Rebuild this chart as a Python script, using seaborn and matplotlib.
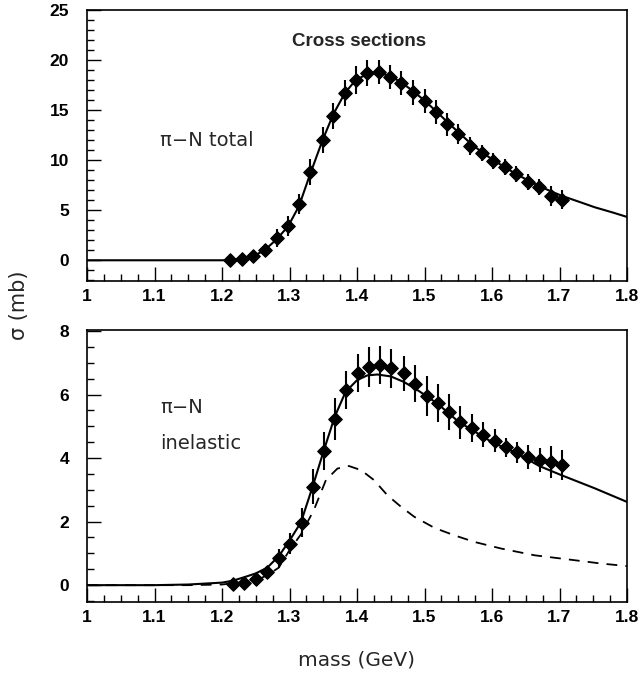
import numpy as np
import pandas as pd
import matplotlib
matplotlib.use("Agg")
import matplotlib.pyplot as plt
import seaborn as sns
from matplotlib.ticker import MultipleLocator
from matplotlib.font_manager import FontProperties

# ---------------- data ----------------
# top panel: pi-N total cross section
tot_mass = [1.2125, 1.230, 1.246, 1.263, 1.281, 1.298, 1.314, 1.330, 1.349, 1.365,
            1.382, 1.398, 1.415, 1.432, 1.449, 1.465, 1.483, 1.501, 1.517, 1.534,
            1.550, 1.568, 1.585, 1.602, 1.619, 1.636, 1.653, 1.670, 1.687, 1.703]
tot_sigma = [0.05, 0.1, 0.43, 1.07, 2.27, 3.47, 5.67, 8.83, 12.0, 14.4,
             16.67, 18.0, 18.67, 18.8, 18.33, 17.67, 16.77, 15.93, 14.77, 13.6,
             12.6, 11.43, 10.67, 9.93, 9.33, 8.6, 7.83, 7.33, 6.43, 6.07]
tot_err = [0.3, 0.3, 0.4, 0.6, 0.9, 1.0, 1.0, 1.3, 1.3, 1.3,
           1.3, 1.4, 1.3, 1.2, 1.2, 1.2, 1.25, 1.2, 1.2, 1.15,
           1.0, 0.9, 0.8, 0.8, 0.8, 0.8, 0.8, 0.8, 1.0, 0.9]

tot_curve_mass = [1.0, 1.1, 1.15, 1.2, 1.212, 1.23, 1.246, 1.263, 1.281, 1.298,
                  1.314, 1.33, 1.349, 1.365, 1.382, 1.398, 1.415, 1.432, 1.449, 1.465,
                  1.483, 1.501, 1.517, 1.534, 1.55, 1.568, 1.585, 1.602, 1.619, 1.636,
                  1.653, 1.67, 1.687, 1.703, 1.733, 1.752, 1.78, 1.80]
tot_curve_sigma = [0.0, 0.0, 0.0, 0.0, 0.03, 0.12, 0.4, 1.0, 2.1, 3.4,
                   5.4, 8.5, 12.0, 14.6, 16.7, 18.0, 18.6, 18.75, 18.4, 17.8,
                   16.9, 15.9, 14.9, 13.8, 12.8, 11.7, 10.8, 10.0, 9.3, 8.6,
                   8.0, 7.4, 6.9, 6.45, 5.75, 5.3, 4.75, 4.33]

# bottom panel: pi-N inelastic cross section
inel_mass = [1.216, 1.233, 1.250, 1.267, 1.284, 1.300, 1.318, 1.335, 1.351, 1.367,
             1.384, 1.402, 1.418, 1.434, 1.451, 1.469, 1.486, 1.503, 1.520, 1.536,
             1.553, 1.570, 1.586, 1.604, 1.620, 1.637, 1.654, 1.671, 1.688, 1.704]
inel_sigma = [0.03, 0.07, 0.18, 0.40, 0.84, 1.31, 1.97, 3.10, 4.22, 5.24,
              6.13, 6.67, 6.88, 6.93, 6.82, 6.67, 6.34, 5.95, 5.73, 5.45,
              5.13, 4.95, 4.74, 4.55, 4.34, 4.18, 4.04, 3.94, 3.88, 3.78]
inel_err = [0.1, 0.1, 0.15, 0.2, 0.3, 0.34, 0.47, 0.55, 0.6, 0.66,
            0.6, 0.6, 0.63, 0.6, 0.6, 0.55, 0.58, 0.63, 0.6, 0.57,
            0.52, 0.45, 0.4, 0.35, 0.3, 0.34, 0.37, 0.37, 0.5, 0.47]

inel_curve_mass = [1.0, 1.1, 1.15, 1.2, 1.216, 1.233, 1.25, 1.267, 1.284, 1.30,
                   1.317, 1.335, 1.351, 1.367, 1.383, 1.40, 1.415, 1.43, 1.45, 1.469,
                   1.486, 1.503, 1.52, 1.55, 1.60, 1.637, 1.67, 1.703, 1.752, 1.80]
inel_curve_sigma = [0.0, 0.0, 0.02, 0.08, 0.14, 0.25, 0.37, 0.55, 0.91, 1.40,
                    1.98, 3.15, 4.25, 5.3, 6.08, 6.45, 6.6, 6.63, 6.57, 6.4,
                    6.19, 5.95, 5.7, 5.15, 4.5, 4.15, 3.75, 3.46, 3.05, 2.62]

dash_mass = [1.0, 1.15, 1.2, 1.25, 1.267, 1.284, 1.30, 1.317, 1.336, 1.354,
             1.371, 1.388, 1.406, 1.425, 1.445, 1.465, 1.485, 1.515, 1.544, 1.574,
             1.614, 1.663, 1.713, 1.762, 1.80]
dash_sigma = [0.0, 0.0, 0.02, 0.15, 0.31, 0.55, 1.1, 1.6, 2.36, 3.31,
              3.67, 3.75, 3.62, 3.31, 2.83, 2.47, 2.15, 1.80, 1.57, 1.36,
              1.15, 0.94, 0.81, 0.68, 0.60]

x_ticks = [1.0, 1.1, 1.2, 1.3, 1.4, 1.5, 1.6, 1.7, 1.8]
x_ticklabels = ["1", "1.1", "1.2", "1.3", "1.4", "1.5", "1.6", "1.7", "1.8"]
top_yticks = [0, 5, 10, 15, 20, 25]
bot_yticks = [0, 2, 4, 6, 8]

# ---------------- figure ----------------
sns.set_theme(style="white")
plt.rcParams['font.family'] = ['DejaVu Sans']

W, H = 642, 681
fig = plt.figure(figsize=(W / 100, H / 100), dpi=100)

def rect(l, t, r, b):
    return [l / W, 1 - b / H, (r - l) / W, (b - t) / H]

ax1 = fig.add_axes(rect(87, 10, 627, 281))
ax2 = fig.add_axes(rect(87, 330, 627, 602))

tick_fp = FontProperties(family='Liberation Sans', weight='bold', size=12.5)

def style_axis(ax, ylim, yticks, ymin):
    ax.set_xlim(1.0, 1.8)
    ax.set_ylim(*ylim)
    ax.xaxis.set_minor_locator(MultipleLocator(0.025))
    ax.yaxis.set_minor_locator(MultipleLocator(ymin))
    ax.tick_params(which='both', direction='in', top=False, right=False,
                   bottom=True, left=True, color='black', width=1.0)
    ax.tick_params(which='major', length=10)
    ax.tick_params(which='minor', length=5)
    ax.tick_params(axis='x', which='major', pad=6)
    ax.tick_params(axis='y', which='major', pad=13)
    ax.set_xticks(x_ticks)
    ax.set_xticklabels(x_ticklabels)
    ax.set_yticks(yticks)
    ax.set_yticklabels([str(v) for v in yticks])
    for lab in ax.get_xticklabels() + ax.get_yticklabels():
        lab.set_fontproperties(tick_fp)
        lab.set_color('black')
    for s in ax.spines.values():
        s.set_color('black')
        s.set_linewidth(1.2)
    ax.set_xlabel("")
    ax.set_ylabel("")
    ax.grid(False)

# top panel
df_tc = pd.DataFrame({"mass": tot_curve_mass, "sigma": tot_curve_sigma})
sns.lineplot(data=df_tc, x="mass", y="sigma", ax=ax1, color='black', lw=1.5,
             estimator=None, sort=False)
ax1.errorbar(tot_mass, tot_sigma, yerr=tot_err, fmt='none', ecolor='black',
             elinewidth=1.5, capsize=0)
df_tp = pd.DataFrame({"mass": tot_mass, "sigma": tot_sigma})
sns.scatterplot(data=df_tp, x="mass", y="sigma", ax=ax1, marker='D', s=48,
                color='black', edgecolor='black', linewidth=0.8, zorder=5)
style_axis(ax1, (-2.07, 25), top_yticks, 1)
ax1.text(1.403, 21.9, "Cross sections", ha='center', va='center',
         family='Liberation Sans', weight='bold', fontsize=13.5)
ax1.text(1.108, 12.0, "π−N total", ha='left', va='center', fontsize=14)

# bottom panel
df_ic = pd.DataFrame({"mass": inel_curve_mass, "sigma": inel_curve_sigma})
sns.lineplot(data=df_ic, x="mass", y="sigma", ax=ax2, color='black', lw=1.5,
             estimator=None, sort=False)
n_before = len(ax2.lines)
df_dc = pd.DataFrame({"mass": dash_mass, "sigma": dash_sigma})
sns.lineplot(data=df_dc, x="mass", y="sigma", ax=ax2, color='black', lw=1.3,
             estimator=None, sort=False)
for ln in ax2.lines[n_before:]:
    ln.set_linestyle((0, (6, 4.5)))
ax2.errorbar(inel_mass, inel_sigma, yerr=inel_err, fmt='none', ecolor='black',
             elinewidth=1.5, capsize=0)
df_ip = pd.DataFrame({"mass": inel_mass, "sigma": inel_sigma})
sns.scatterplot(data=df_ip, x="mass", y="sigma", ax=ax2, marker='D', s=48,
                color='black', edgecolor='black', linewidth=0.8, zorder=5)
style_axis(ax2, (-0.53, 8.03), bot_yticks, 0.5)
ax2.text(1.108, 5.6, "π−N", ha='left', va='center', fontsize=14)
ax2.text(1.108, 4.47, "inelastic", ha='left', va='center', fontsize=14)

fig.text(357 / W, 1 - 660 / H, "mass (GeV)", ha='center', va='center', fontsize=14.5)
fig.text(19 / W, 1 - 305 / H, "σ (mb)", ha='center', va='center', rotation=90,
         fontsize=15)

fig.savefig("out.png", dpi=100)
